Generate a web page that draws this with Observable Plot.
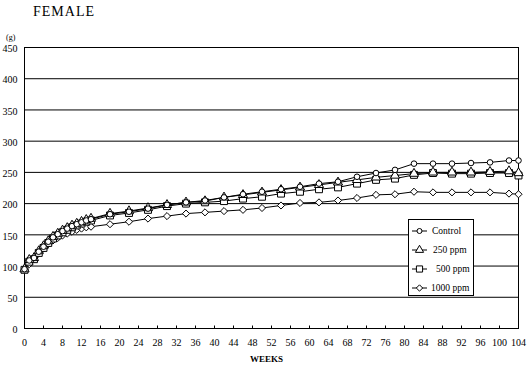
<!DOCTYPE html>
<html>
<head>
<meta charset="utf-8">
<script src="https://cdn.jsdelivr.net/npm/d3@7"></script>
<script src="https://cdn.jsdelivr.net/npm/@observablehq/plot@0.6"></script>
<style>
  html, body { margin: 0; padding: 0; background: #fff; }
  #wrap { position: relative; width: 527px; height: 369px; font-family: "Liberation Serif", "DejaVu Serif", serif; color: #000; }
  .lbl { position: absolute; white-space: nowrap; line-height: 1; }
  #legend { position: absolute; left: 408px; top: 219px; width: 66px; height: 77px; border: 1px solid #000; background: #fff; box-sizing: border-box; }
</style>
</head>
<body>
<div id="wrap">
  <div id="chart"></div>
  <div class="lbl" style="left:33px;top:5px;font-size:14px;letter-spacing:1px;">FEMALE</div>
  <div class="lbl" style="left:6px;top:34px;font-size:8px;">(g)</div>
  <div class="lbl" style="left:250px;top:355px;font-size:9px;font-weight:bold;">WEEKS</div>
  <div id="legend"></div>
</div>
<script>
const weeks = [0,1,2,3,4,5,6,7,8,9,10,11,12,13,14,18,22,26,30,34,38,42,46,50,54,58,62,66,70,74,78,82,86,90,94,98,102,104];
const seriesNames = ["Control", "250 ppm", "500 ppm", "1000 ppm"];
const control = [95,109,113,123,131,139,146,151,156,160,164,167,170,173,175,183,187,192,198,202,205,210,215,219,223,227,232,235,243,249,254,264,264,264,265,266,269,269];
const ppm250  = [95,110,113,124,132,140,147,152,157,161,165,168,171,174,176,184,188,193,198,202,204,210,214,218,222,226,230,234,238,242,245,248,250,250,250,251,252,249];
const ppm500  = [94,107,111,121,129,137,144,149,154,158,162,165,168,171,173,181,185,190,196,200,202,204,208,211,216,219,223,226,232,238,240,246,249,248,248,249,249,245];
const ppm1000 = [94,103,112,120,128,135,141,145,149,152,155,158,160,162,163,167,171,176,180,184,186,188,190,193,197,201,202,205,209,214,215,219,218,218,218,218,216,215];
const xTicks = d3.range(0, 105, 4);
const yTicks = d3.range(0, 451, 50);

const symbols = {"Control": "circle", "250 ppm": "triangle", "500 ppm": "square", "1000 ppm": "diamond2"};
const radii = {"Control": 2.8, "250 ppm": 3.4, "500 ppm": 3.9, "1000 ppm": 3.2};
const valuesBy = {"Control": control, "250 ppm": ppm250, "500 ppm": ppm500, "1000 ppm": ppm1000};

const rows = [];
for (const s of seriesNames) {
  valuesBy[s].forEach((v, i) => rows.push({series: s, week: weeks[i], value: v}));
}
const drawOrder = ["1000 ppm", "500 ppm", "250 ppm", "Control"];

const marks = [
  Plot.ruleY(yTicks, {stroke: "#000", strokeWidth: 1}),
  Plot.ruleX(xTicks, {y1: 0, y2: 4, stroke: "#000"}),
  Plot.frame({stroke: "#000"}),
  Plot.axisY(yTicks, {tickSize: 0, tickPadding: 7, fontSize: 10, dy: 1.5, label: null}),
  Plot.axisX(xTicks, {tickSize: 0, tickPadding: 10, fontSize: 10, label: null})
];
for (const s of drawOrder) {
  const d = rows.filter(r => r.series === s);
  marks.push(Plot.line(d, {x: "week", y: "value", stroke: "#000", strokeWidth: 1}));
}
for (const s of drawOrder) {
  const d = rows.filter(r => r.series === s);
  marks.push(Plot.dot(d, {x: "week", y: "value", symbol: () => symbols[s], r: radii[s], fill: "#fff", stroke: "#000", strokeWidth: 1}));
}

const chart = Plot.plot({
  width: 527,
  height: 369,
  marginLeft: 24,
  marginRight: 9,
  marginTop: 47,
  marginBottom: 41,
  style: {fontFamily: "Liberation Serif, DejaVu Serif, serif", color: "#000", background: "#fff"},
  x: {domain: [0, 104], axis: null},
  y: {domain: [0, 450], axis: null},
  symbol: {domain: Object.values(symbols), range: Object.values(symbols)},
  marks
});
document.getElementById("chart").appendChild(chart);

// legend
const leg = d3.select("#legend");
const svg = leg.append("svg").attr("width", 64).attr("height", 75);
const textX = {"Control": 23, "250 ppm": 24, "500 ppm": 27, "1000 ppm": 22};
const symMap = {circle: d3.symbolCircle, triangle: d3.symbolTriangle, square: d3.symbolSquare, diamond2: d3.symbolDiamond2};
seriesNames.forEach((s, i) => {
  const cy = 11 + i * 19;
  const g = svg.append("g");
  g.append("line").attr("x1", 3).attr("x2", 18).attr("y1", cy).attr("y2", cy).attr("stroke", "#000");
  g.append("path")
    .attr("d", d3.symbol(symMap[symbols[s]], Math.PI * radii[s] * radii[s] * 0.8)())
    .attr("transform", `translate(10.5,${cy})`)
    .attr("fill", "#fff").attr("stroke", "#000");
  g.append("text").attr("x", textX[s]).attr("y", cy).attr("dy", "0.35em")
    .attr("font-size", 9.5).attr("font-family", "Liberation Serif, DejaVu Serif, serif").text(s);
});
</script>
</body>
</html>
